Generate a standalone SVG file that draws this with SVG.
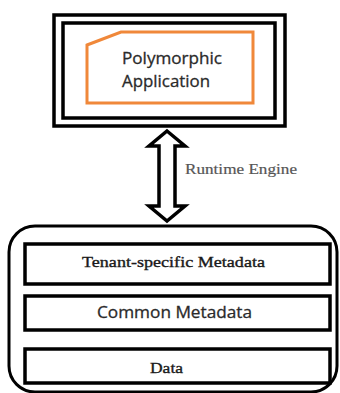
<svg xmlns="http://www.w3.org/2000/svg" width="340" height="393" viewBox="0 0 340 393">
<style>
.box{fill:#fff;stroke:#000;stroke-width:3.5}
.sans{font-family:"Open Sans","Liberation Sans",sans-serif;fill:#2a2a2a;stroke:#2a2a2a;stroke-width:0.3}
.serif{font-family:"Liberation Serif","DejaVu Serif",serif;fill:#1a1a1a;stroke:#1a1a1a;stroke-width:0.35}
</style>
<rect width="340" height="393" fill="#fff"/>
<g id="app-frame">
<rect class="box" x="54" y="15" width="231" height="111" stroke-width="4"/>
<rect class="box" x="63" y="23" width="212" height="95"/>
</g>
<g id="polymorphic-application">
<polygon points="87,45 121,32 253,32 253,103 87,103" fill="#fff" stroke="#F0883A" stroke-width="3"/>
<text class="sans" x="122" y="64" font-size="16.5" textLength="100" lengthAdjust="spacingAndGlyphs">Polymorphic</text>
<text class="sans" x="122" y="87" font-size="16.5" textLength="88" lengthAdjust="spacingAndGlyphs">Application</text>
</g>
<g id="connectors">
<polygon points="167,131 185,146 175,146 175,206 185,206 167,221 149,206 159,206 159,146 149,146" fill="#fff" stroke="#000" stroke-width="3.5" stroke-linejoin="miter"/>
<text class="serif" x="185" y="174" font-size="15" textLength="112" lengthAdjust="spacingAndGlyphs" style="fill:#555;stroke:#555;stroke-width:0.2">Runtime Engine</text>
</g>
<g id="storage">
<rect x="9" y="226" width="328" height="166" rx="26" fill="#fff" stroke="#000" stroke-width="3"/>
</g>
<g id="tenant-metadata">
<rect class="box" x="25" y="244" width="305" height="40"/>
<text class="serif" x="82" y="267" font-size="15" textLength="183" lengthAdjust="spacingAndGlyphs">Tenant-specific Metadata</text>
</g>
<g id="common-metadata">
<rect class="box" x="25" y="296" width="305" height="34"/>
<text class="sans" x="97" y="318" font-size="16.5" textLength="155" lengthAdjust="spacingAndGlyphs">Common Metadata</text>
</g>
<g id="data">
<rect class="box" x="25" y="349" width="305" height="34"/>
<text class="serif" x="150" y="373" font-size="15.5" textLength="33" lengthAdjust="spacingAndGlyphs">Data</text>
</g>
</svg>
